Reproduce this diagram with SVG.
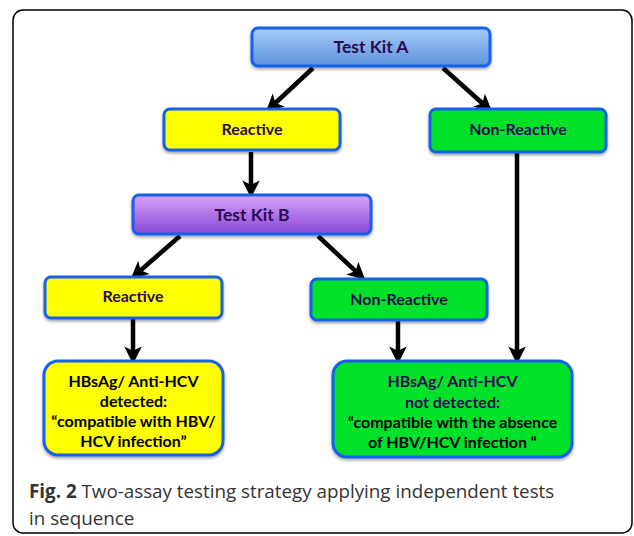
<svg xmlns="http://www.w3.org/2000/svg" width="634" height="536" viewBox="0 0 634 536">
<defs>
<linearGradient id="gA" x1="0" y1="0" x2="0" y2="1"><stop offset="0" stop-color="#a9cbf8"/><stop offset="1" stop-color="#5a93dc"/></linearGradient>
<linearGradient id="gB" x1="0" y1="0" x2="0" y2="1"><stop offset="0" stop-color="#d9a3f8"/><stop offset="1" stop-color="#8846d6"/></linearGradient>
<filter id="sh" x="-10%" y="-20%" width="120%" height="150%"><feDropShadow dx="0" dy="2" stdDeviation="1.5" flood-color="#000" flood-opacity="0.35"/></filter>
<marker id="ah" markerUnits="userSpaceOnUse" markerWidth="22" markerHeight="22" viewBox="-2 -10 20 20" refX="6" refY="0" orient="auto">
<path d="M0,-8 L16,0 L0,8 L4,0 z" fill="#000"/>
</marker>
<style>
.box{stroke:#1560ea;stroke-width:3;filter:url(#sh)}
.lbl{font-family:Lato,"Open Sans",sans-serif;font-weight:bold;font-size:16px;text-anchor:middle;fill:#2b0b52}
.big{font-size:17.5px}
.blk{fill:#000}
.cn{stroke:#000;stroke-width:4.5;fill:none;marker-end:url(#ah)}
.cap{font-family:"Open Sans","Liberation Sans",sans-serif;font-size:18.8px;fill:#333}
</style>
</defs>
<rect x="13" y="10" width="619" height="523" rx="10" fill="#fff" stroke="#000" stroke-width="1.5"/>
<g id="connectors">
<path class="cn" d="M313,68 L273.8,104.5"/>
<path class="cn" d="M443,68 L484,104.7"/>
<path class="cn" d="M251,152 L251,187"/>
<path class="cn" d="M180,236 L139,271.7"/>
<path class="cn" d="M318,236 L357.2,272.6"/>
<path class="cn" d="M133,319 L133,353"/>
<path class="cn" d="M398,320 L398,353"/>
<path class="cn" d="M517,153 L517,353"/>
</g>
<g id="kitA"><rect class="box" x="252" y="28" width="238" height="38" rx="6" fill="url(#gA)"/><text class="lbl big" x="371" y="53">Test Kit A</text></g>
<g id="reactive1"><rect class="box" x="164" y="109" width="176" height="41" rx="6" fill="#ffff00"/><text class="lbl" x="252" y="135">Reactive</text></g>
<g id="nonreactive1"><rect class="box" x="430" y="109" width="176" height="43" rx="6" fill="#00e12c"/><text class="lbl" x="518" y="135">Non-Reactive</text></g>
<g id="kitB"><rect class="box" x="133" y="195" width="238" height="39" rx="6" fill="url(#gB)"/><text class="lbl big" x="252" y="220.5">Test Kit B</text></g>
<g id="reactive2"><rect class="box" x="45" y="277" width="177" height="41" rx="6" fill="#ffff00"/><text class="lbl" x="133" y="302">Reactive</text></g>
<g id="nonreactive2"><rect class="box" x="311" y="279" width="176" height="41" rx="6" fill="#00e12c"/><text class="lbl" x="399" y="305">Non-Reactive</text></g>
<g id="detected"><rect class="box" x="44" y="361" width="179" height="94" rx="14" fill="#ffff00"/>
<text class="lbl blk" x="133.5" y="387">HBsAg/ Anti-HCV</text>
<text class="lbl blk" x="133.5" y="407">detected:</text>
<text class="lbl blk" x="133.5" y="427">“compatible with HBV/</text>
<text class="lbl blk" x="133.5" y="447">HCV infection”</text></g>
<g id="notdetected"><rect class="box" x="333" y="361" width="239" height="96" rx="14" fill="#00e12c"/>
<text class="lbl" x="452.5" y="387">HBsAg/ Anti-HCV</text>
<text class="lbl" x="452.5" y="408">not detected:</text>
<text class="lbl blk" x="452.5" y="428">“compatible with the absence</text>
<text class="lbl blk" x="452.5" y="448">of HBV/HCV infection “</text></g>
<text class="cap" x="29" y="498"><tspan font-weight="bold">Fig. 2</tspan> Two-assay testing strategy applying independent tests</text>
<text class="cap" x="29" y="525">in sequence</text>
</svg>
